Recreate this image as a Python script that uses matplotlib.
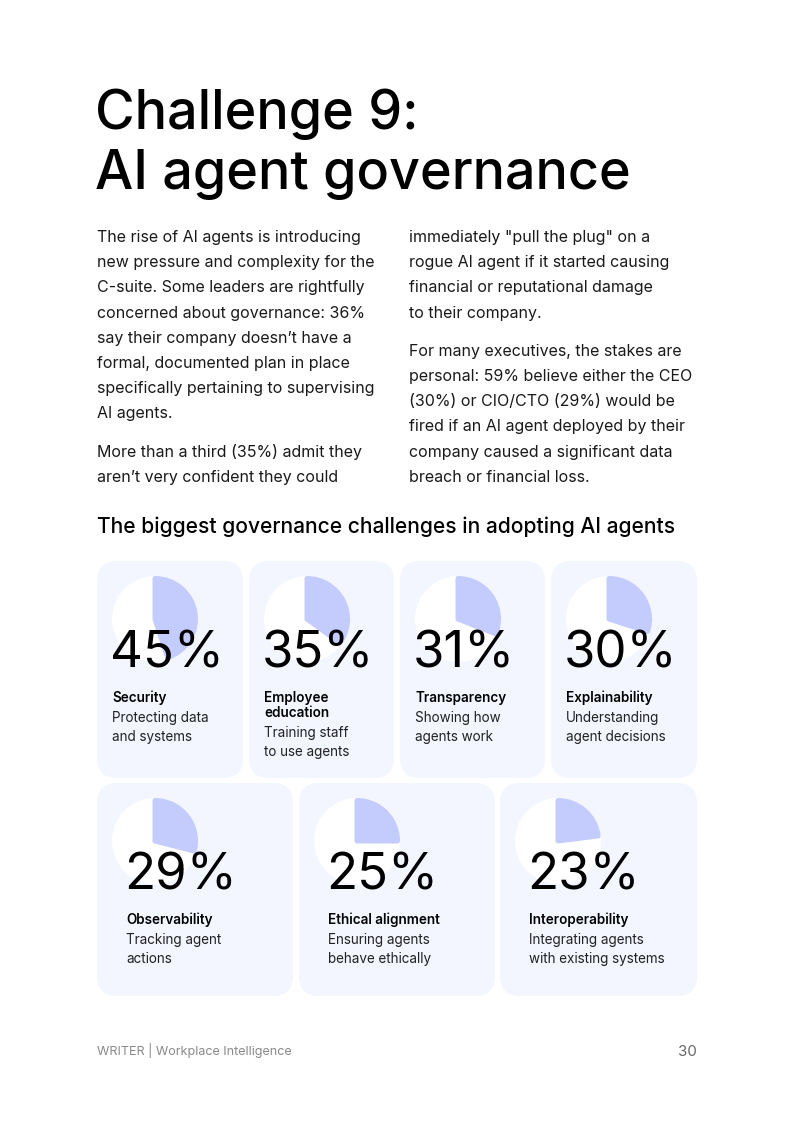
import matplotlib.pyplot as plt
from matplotlib.patches import FancyBboxPatch, Circle, Wedge

# ---- data ----
pcts = [45, 35, 31, 30, 29, 25, 23]
names = ["Security", "Employee\neducation", "Transparency", "Explainability",
         "Observability", "Ethical alignment", "Interoperability"]
descs = ["Protecting data\nand systems", "Training staff\nto use agents",
         "Showing how\nagents work", "Understanding\nagent decisions",
         "Tracking agent\nactions", "Ensuring agents\nbehave ethically",
         "Integrating agents\nwith existing systems"]

title_lines = ["Challenge 9:", "AI agent governance"]
left_col = [
    ["The rise of AI agents is introducing",
     "new pressure and complexity for the",
     "C-suite. Some leaders are rightfully",
     "concerned about governance: 36%",
     "say their company doesn\u2019t have a",
     "formal, documented plan in place",
     "specifically pertaining to supervising",
     "AI agents."],
    ["More than a third (35%) admit they",
     "aren\u2019t very confident they could"],
]
right_col = [
    ["immediately \"pull the plug\" on a",
     "rogue AI agent if it started causing",
     "financial or reputational damage",
     "to their company."],
    ["For many executives, the stakes are",
     "personal: 59% believe either the CEO",
     "(30%) or CIO/CTO (29%) would be",
     "fired if an AI agent deployed by their",
     "company caused a significant data",
     "breach or financial loss."],
]
subtitle = "The biggest governance challenges in adopting AI agents"
footer_left = "WRITER | Workplace Intelligence"
page_no = "30"

CARD_BG = "#F3F5FF"
WEDGE = "#C4CBFD"
PX = 0.72  # px -> pt at dpi 100

plt.rcParams['font.family'] = ['Inter', 'DejaVu Sans']

fig = plt.figure(figsize=(7.93, 11.22), dpi=100)
ax = fig.add_axes([0, 0, 1, 1])
ax.set_xlim(0, 793)
ax.set_ylim(1122, 0)
ax.axis('off')

# title
for i, line in enumerate(title_lines):
    ax.text(95, 129 + i * 60, line, fontsize=54 * PX, color="#000000",
            va='baseline', ha='left', fontweight='medium')

# body paragraphs
def draw_col(x, paras, y0, para_gap):
    y = y0
    for para in paras:
        for line in para:
            ax.text(x, y, line, fontsize=16 * PX, color="#1a1a1a",
                    va='baseline', ha='left')
            y += 25.2
        y += para_gap

draw_col(97, left_col, 242, 13)
draw_col(409, right_col, 242, 13)

ax.text(97, 533, subtitle, fontsize=21 * PX, color="#000000",
        va='baseline', ha='left', fontweight='medium')

# cards
row1 = [(97, 561, 146, 217), (249, 561, 145, 217), (400, 561, 145, 217), (551, 561, 146, 217)]
row2 = [(97, 783, 196, 213), (299, 783, 196, 213), (500, 783, 197, 213)]
cards = row1 + row2
text_off = [15] * 4 + [29] * 3

for i, (cx, cy, w, h) in enumerate(cards):
    box = FancyBboxPatch((cx + 20, cy + 20), w - 40, h - 40,
                         boxstyle="round,pad=20", fc=CARD_BG, ec='none')
    ax.add_patch(box)
    pc = (cx + 58, cy + 58)
    R = 43
    ax.add_patch(Circle(pc, R, fc='white', ec='none'))
    ax.add_patch(Wedge(pc, R - 2.5, 270, 270 + 360 * pcts[i] / 100,
                       fc=WEDGE, ec=WEDGE, lw=5 * PX, joinstyle='round'))
    tx = cx + text_off[i]
    ax.text(tx - 2, cy + 106, f"{pcts[i]}%", fontsize=51 * PX, color="#000000",
            va='baseline', ha='left', fontweight='normal')
    y = cy + 141
    for ln in names[i].split("\n"):
        ax.text(tx, y, ln, fontsize=13.5 * PX, color="#000000",
                va='baseline', ha='left', fontweight='semibold')
        y += 14.5
    y += 5.5
    for ln in descs[i].split("\n"):
        ax.text(tx, y, ln, fontsize=13.5 * PX, color="#222222",
                va='baseline', ha='left')
        y += 19

# footer
ax.text(97, 1055, footer_left, fontsize=12.6 * PX, color="#8a8a8a",
        va='baseline', ha='left')
ax.text(697, 1056, page_no, fontsize=15 * PX, color="#666666",
        va='baseline', ha='right')

fig.savefig("out.png", dpi=100)
